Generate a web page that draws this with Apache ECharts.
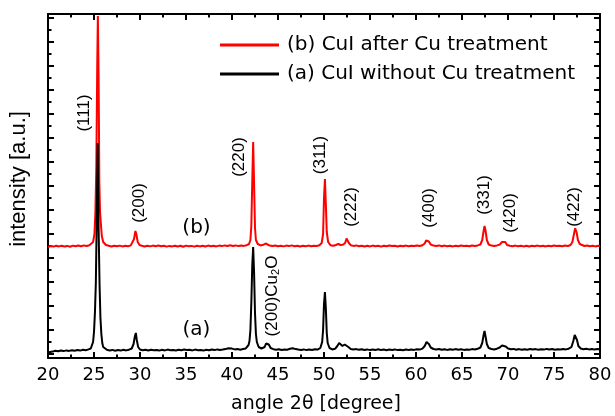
<!DOCTYPE html>
<html>
<head>
<meta charset="utf-8">
<script src="https://cdn.jsdelivr.net/npm/echarts@6/dist/echarts.min.js"></script>
<style>
  html, body { margin: 0; padding: 0; background: #fff; }
  #main { width: 615px; height: 416px; }
</style>
</head>
<body>
<div id="main"></div>
<script>
// XRD patterns, angle 2theta [deg] vs intensity [a.u.]
var traceA = [
  [20.0,5.5],[20.2,7.0],[20.5,6.4],[20.8,7.3],[21.1,6.8],[21.4,7.5],[21.7,6.9],[22.0,7.6],[22.3,7.1],[22.6,7.8],
  [22.9,7.2],[23.2,8.0],[23.5,7.4],[23.8,8.2],[24.1,7.8],[24.4,8.6],[24.65,9.5],[24.8,11],[24.9,16],[25.0,26],[25.1,45],
  [25.2,75],[25.3,140],[25.4,215],[25.5,130],[25.6,75],[25.7,40],[25.8,24],[25.9,15],[26.0,11],[26.2,9],[26.4,8.2],
  [26.7,7.6],[27.0,8.1],[27.3,7.3],[27.6,7.9],[27.9,7.4],[28.2,8.2],[28.5,7.6],[28.8,8.3],[29.1,9.5],[29.3,14],
  [29.45,22],[29.55,25],[29.65,18],[29.8,11],[30.0,8.5],[30.3,7.8],[30.6,8.2],[30.9,7.5],[31.2,8.3],[31.5,7.7],
  [31.8,8.0],[32.1,7.4],[32.4,8.2],[32.7,7.6],[33.0,8.4],[33.3,7.8],[33.6,8.1],[33.9,7.5],[34.2,8.3],[34.5,7.7],
  [34.8,8.5],[35.1,7.9],[35.4,8.2],[35.7,7.6],[36.0,8.4],[36.3,7.8],[36.6,8.0],[36.9,7.4],[37.2,8.3],[37.5,7.7],
  [37.8,8.5],[38.1,7.9],[38.4,8.6],[38.7,8.0],[39.0,8.4],[39.3,8.9],[39.6,9.8],[39.8,10.5],[40.0,9.4],[40.3,8.6],
  [40.6,8.9],[40.9,8.3],[41.2,9.0],[41.5,9.6],[41.8,13],[41.9,17],[42.0,28],[42.1,55],[42.2,92],[42.3,111],
  [42.4,85],[42.5,45],[42.6,24],[42.7,16],[42.9,11],[43.2,9.5],[43.55,11],[43.7,14.5],[43.85,16],[44.0,13.5],
  [44.2,10],[44.5,8.8],[44.8,8.2],[45.1,8.7],[45.4,8.0],[45.7,8.6],[46.0,8.3],[46.3,9.2],[46.6,9.8],[46.9,8.9],
  [47.2,8.4],[47.5,8.0],[47.8,8.6],[48.1,7.9],[48.4,8.5],[48.7,8.1],[49.0,8.7],[49.3,8.4],[49.6,10],[49.8,16],
  [49.9,28],[50.0,54],[50.1,66],[50.2,50],[50.3,25],[50.4,15],[50.6,10],[50.9,8.6],[51.2,9.2],[51.45,12],
  [51.65,15],[51.85,13],[52.0,12],[52.25,13.5],[52.45,15.3],[52.65,11],[52.9,9],[53.2,8.4],[53.5,8.9],[53.8,8.2],
  [54.1,8.8],[54.4,8.0],[54.7,8.6],[55.0,7.9],[55.3,8.5],[55.6,8.1],[55.9,8.7],[56.2,7.9],[56.5,8.4],[56.8,7.8],
  [57.1,8.5],[57.4,8.0],[57.7,8.6],[58.0,7.9],[58.3,8.3],[58.6,7.7],[58.9,8.5],[59.2,8.0],[59.5,8.6],[59.8,8.1],
  [60.1,8.8],[60.4,8.4],[60.7,9.4],[60.95,12],[61.15,16],[61.25,17],[61.4,14],[61.6,10.5],[61.9,9],[62.2,8.5],
  [62.5,9],[62.8,8.3],[63.1,8.8],[63.4,8.1],[63.7,8.7],[64.0,8.2],[64.3,8.9],[64.6,8.3],[64.9,8.8],[65.2,8.1],
  [65.5,8.6],[65.8,8.2],[66.1,8.9],[66.4,8.5],[66.7,9.2],[67.0,10.5],[67.2,15],[67.35,23],[67.45,27],[67.55,22],
  [67.7,14],[67.9,10],[68.2,9],[68.5,8.5],[68.8,9.3],[69.1,10.5],[69.35,12.5],[69.55,13],[69.75,11.5],[70.0,9.5],
  [70.3,8.7],[70.6,9.1],[70.9,8.3],[71.2,8.9],[71.5,8.2],[71.8,8.8],[72.1,8.3],[72.4,9.0],[72.7,8.4],[73.0,8.9],
  [73.3,8.2],[73.6,8.8],[73.9,8.4],[74.2,9.1],[74.5,8.5],[74.8,8.9],[75.1,8.3],[75.4,8.8],[75.7,8.4],[76.0,9.0],
  [76.3,8.6],[76.6,9.3],[76.9,11],[77.1,17],[77.25,23],[77.35,24],[77.5,18],[77.65,12],[77.9,9.5],[78.2,8.8],
  [78.5,9.3],[78.8,8.6],[79.1,9.1],[79.4,8.5],[79.7,9.0],[80.0,8.7]
];

var traceB = [
  [20.0,111],[20.3,112],[20.6,111.4],[20.9,112.2],[21.2,111.6],[21.5,112.3],[21.8,111.5],[22.1,112.1],[22.4,111.3],[22.7,112.4],
  [23.0,111.7],[23.3,112.5],[23.6,111.8],[23.9,112.6],[24.2,112.0],[24.5,112.8],[24.7,113.5],[24.9,116],[25.05,124],[25.15,145],
  [25.25,190],[25.35,290],[25.42,342],[25.5,280],[25.58,175],[25.66,145],[25.75,134],[25.85,122],[26.0,116],[26.3,113],
  [26.6,112.2],[26.9,111.5],[27.2,112.3],[27.5,111.7],[27.8,112.4],[28.1,111.6],[28.4,112.2],[28.7,111.8],[29.0,112.6],[29.2,114],
  [29.35,119],[29.5,127],[29.6,124],[29.75,116],[29.95,113],[30.2,112.2],[30.5,111.5],[30.8,112.3],[31.1,111.6],[31.4,112.4],
  [31.7,111.8],[32.0,112.5],[32.3,111.7],[32.6,112.2],[32.9,111.4],[33.2,112.1],[33.5,111.6],[33.8,112.3],[34.1,111.5],[34.4,112.2],
  [34.7,111.3],[35.0,112.4],[35.3,111.7],[35.6,112.1],[35.9,111.4],[36.2,112.3],[36.5,111.6],[36.8,112.2],[37.1,111.5],[37.4,112.4],
  [37.7,111.8],[38.0,112.2],[38.3,111.6],[38.6,112.4],[38.9,111.9],[39.2,112.6],[39.5,112.0],[39.8,112.7],[40.1,112.1],[40.4,112.6],
  [40.7,111.9],[41.0,112.5],[41.3,112.1],[41.6,112.8],[41.85,114],[42.0,118],[42.1,132],[42.2,176],[42.3,216],[42.4,174],
  [42.5,130],[42.6,118],[42.8,114],[43.1,112.6],[43.4,113.2],[43.65,114.5],[43.85,113.4],[44.1,112.4],[44.4,111.9],[44.7,112.5],
  [45.0,111.8],[45.3,112.3],[45.6,111.6],[45.9,112.4],[46.2,111.9],[46.5,112.6],[46.8,111.8],[47.1,112.3],[47.4,111.5],[47.7,112.2],
  [48.0,111.7],[48.3,112.4],[48.6,111.8],[48.9,112.3],[49.2,112.0],[49.5,112.8],[49.75,115],[49.9,124],[50.0,160],[50.1,179],
  [50.2,154],[50.3,126],[50.45,116],[50.7,112.8],[51.0,112.2],[51.3,113],[51.55,114.2],[51.8,113],[52.05,113.2],[52.3,115],
  [52.45,119.5],[52.55,119.7],[52.7,115],[52.9,112.8],[53.2,112.1],[53.5,112.6],[53.8,111.8],[54.1,112.3],[54.4,111.5],[54.7,112.2],
  [55.0,111.6],[55.3,112.4],[55.6,111.8],[55.9,112.2],[56.2,111.4],[56.5,112.3],[56.8,111.7],[57.1,112.5],[57.4,111.9],[57.7,112.2],
  [58.0,111.5],[58.3,112.3],[58.6,111.8],[58.9,112.4],[59.2,111.7],[59.5,112.3],[59.8,111.9],[60.1,112.5],[60.4,112.0],[60.7,112.8],
  [60.95,114.5],[61.1,117.5],[61.25,118.7],[61.4,116.5],[61.6,113.5],[61.9,112.4],[62.2,112.0],[62.5,112.6],[62.8,111.8],[63.1,112.4],
  [63.4,111.7],[63.7,112.2],[64.0,111.6],[64.3,112.3],[64.6,111.8],[64.9,112.4],[65.2,111.9],[65.5,112.3],[65.8,111.7],[66.1,112.5],
  [66.4,112.0],[66.7,112.6],[67.0,113.5],[67.2,118],[67.35,127],[67.45,132],[67.55,128],[67.7,118],[67.9,113.5],[68.2,112.4],
  [68.5,112.0],[68.8,112.6],[69.1,113.4],[69.35,116],[69.55,118],[69.7,116],[69.9,113],[70.2,112.2],[70.5,111.8],[70.8,112.4],
  [71.1,111.7],[71.4,112.3],[71.7,111.6],[72.0,112.2],[72.3,111.5],[72.6,112.3],[72.9,111.8],[73.2,112.4],[73.5,111.7],[73.8,112.2],
  [74.1,111.6],[74.4,112.3],[74.7,111.8],[75.0,112.5],[75.3,111.9],[75.6,112.3],[75.9,111.8],[76.2,112.5],[76.5,112.0],[76.8,113],
  [77.0,116],[77.15,123],[77.3,129.7],[77.45,126],[77.6,118],[77.8,114],[78.0,112.6],[78.3,112.0],[78.6,112.5],[78.9,111.8],
  [79.2,112.3],[79.5,111.6],[79.8,112.2],[80.0,111.8]
];

var seriesNames = ['(a) CuI without Cu treatment', '(b) CuI after Cu treatment'];

// reflection labels (rotated) and where they sit
var peakNames = ['(111)', '(200)', '(220)', '(311)', '(222)', '(400)', '(331)', '(420)', '(422)'];
var peakLabelAt = [[24.0,245],[29.95,155],[40.8,201],[49.57,203],[53.0,151],[61.45,150],[67.4,163],[70.2,145],[77.25,151]];
var cu2oLabelAt = [44.4, 62];
var traceTags = ['(a)', '(b)'];
var traceTagAt = [[36.14,28],[36.14,130]];

var black = '#000';
var myChart = echarts.init(document.getElementById('main'));

function tickAxis(pos) {
  return {
    type: 'value', gridIndex: 1, position: pos, min: 0, max: 336, interval: 24,
    axisLine: { show: false },
    axisTick: { show: true, inside: true, length: 6, lineStyle: { color: black, width: 2 } },
    minorTick: { show: true, splitNumber: 2, length: 3.5, lineStyle: { color: black, width: 2 } },
    axisLabel: { show: false },
    splitLine: { show: false }
  };
}

var option = {
  animation: false,
  backgroundColor: '#fff',
  grid: [
    { left: 48, right: 15, top: 14, bottom: 58, outerBoundsMode: 'none' },
    { left: 48, right: 15, top: 18, bottom: 62, outerBoundsMode: 'none' }
  ],
  legend: {
    orient: 'vertical',
    left: 215, top: 30,
    itemWidth: 59, itemHeight: 3, itemGap: 9,
    icon: 'rect',
    data: [seriesNames[1], seriesNames[0]],
    textStyle: { fontFamily: 'DejaVu Sans', fontSize: 20, color: black, padding: [0, 0, 0, 3] }
  },
  xAxis: [
    {
      type: 'value', gridIndex: 0, position: 'bottom', min: 20, max: 80, interval: 5,
      axisLine: { show: true, onZero: false, lineStyle: { color: black, width: 2 } },
      axisTick: { show: true, inside: true, length: 6, lineStyle: { color: black, width: 2 } },
      minorTick: { show: true, splitNumber: 2, length: 3.5, lineStyle: { color: black, width: 2 } },
      axisLabel: { fontFamily: 'DejaVu Sans', fontSize: 18, color: black, margin: 8 },
      splitLine: { show: false },
      name: 'angle 2θ [degree]', nameLocation: 'middle', nameGap: 37,
      nameTextStyle: { fontFamily: 'DejaVu Sans', fontSize: 19, color: black, padding: [0, 16, 0, 0] }
    },
    {
      type: 'value', gridIndex: 0, position: 'top', min: 20, max: 80, interval: 5,
      axisLine: { show: true, onZero: false, lineStyle: { color: black, width: 2 } },
      axisTick: { show: true, inside: true, length: 6, lineStyle: { color: black, width: 2 } },
      minorTick: { show: true, splitNumber: 2, length: 3.5, lineStyle: { color: black, width: 2 } },
      axisLabel: { show: false },
      splitLine: { show: false }
    },
    { type: 'value', gridIndex: 1, min: 20, max: 80, show: false }
  ],
  yAxis: [
    {
      type: 'value', gridIndex: 0, position: 'left', min: 0, max: 344,
      axisLine: { show: true, onZero: false, lineStyle: { color: black, width: 2 } },
      axisTick: { show: false }, axisLabel: { show: false }, splitLine: { show: false },
      name: 'intensity [a.u.]', nameLocation: 'middle', nameGap: 18, nameRotate: 90,
      nameTextStyle: { fontFamily: 'Liberation Sans', fontSize: 22, color: black, padding: [0, 0, 0, 14] }
    },
    {
      type: 'value', gridIndex: 0, position: 'right', min: 0, max: 344,
      axisLine: { show: true, onZero: false, lineStyle: { color: black, width: 2 } },
      axisTick: { show: false }, axisLabel: { show: false }, splitLine: { show: false }
    },
    tickAxis('left'),
    tickAxis('right')
  ],
  series: [
    {
      name: seriesNames[1], type: 'line', data: traceB, showSymbol: false,
      lineStyle: { color: '#ff0000', width: 2 }, itemStyle: { color: '#ff0000' }
    },
    {
      name: seriesNames[0], type: 'line', data: traceA, showSymbol: false,
      lineStyle: { color: black, width: 2 }, itemStyle: { color: black }
    },
    {
      type: 'scatter', symbolSize: 0, silent: true, itemStyle: { opacity: 1 },
      data: peakNames.map(function (n, i) { return { name: n, value: peakLabelAt[i] }; }),
      label: {
        show: true, position: 'inside', rotate: 90, formatter: '{b}',
        fontFamily: 'Liberation Sans', fontSize: 17, color: black, textBorderWidth: 0
      }
    },
    {
      type: 'scatter', symbolSize: 0, silent: true, itemStyle: { opacity: 1 },
      data: [{ name: 'cu2o', value: cu2oLabelAt }],
      label: {
        show: true, position: 'inside', rotate: 90, textBorderWidth: 0,
        formatter: '{m|(200)Cu}{s|2}{m|O}',
        rich: {
          m: { fontFamily: 'Liberation Sans', fontSize: 17, color: black, lineHeight: 17, verticalAlign: 'top' },
          s: { fontFamily: 'Liberation Sans', fontSize: 11, color: black, lineHeight: 11, verticalAlign: 'bottom' }
        }
      }
    },
    {
      type: 'scatter', symbolSize: 0, silent: true, itemStyle: { opacity: 1 },
      data: traceTags.map(function (n, i) { return { name: n, value: traceTagAt[i] }; }),
      label: {
        show: true, position: 'inside', formatter: '{b}', textBorderWidth: 0,
        fontFamily: 'DejaVu Sans', fontSize: 20, color: black
      }
    }
  ]
};

myChart.setOption(option);
</script>
</body>
</html>
